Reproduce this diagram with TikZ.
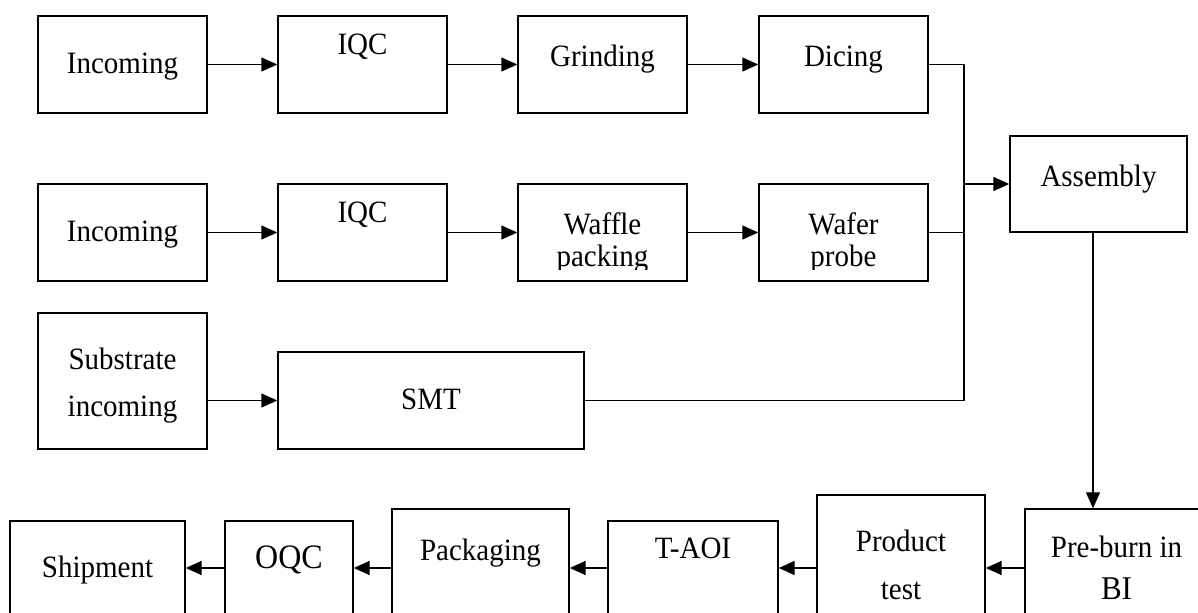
\documentclass[tikz,border=0pt]{standalone}
\usepackage{fontspec}
\usepackage{graphicx}
\setmainfont{Liberation Serif}
\usetikzlibrary{arrows.meta,fit}
% slightly taller lettering
\newcommand{\tall}[1]{\scalebox{1}[1.07]{#1}}
\begin{document}
\begin{tikzpicture}[x=0.5pt,y=-0.5pt,
  box/.style={draw, line width=0.7pt, inner sep=0pt},
  lbl/.style={font=\fontsize{14.5}{17}\selectfont, inner sep=0pt, anchor=base},
  arr/.style={line width=0.7pt, -{Triangle[length=8pt,width=7pt]}},
  wire/.style={line width=0.7pt}]
\useasboundingbox (0,0) rectangle (1198,613);
\clip (0,0) rectangle (1198,613);

% first wafer line
\node[box, fit={(38,16)(207,113)}] (inc1) {};
\node[lbl] (inc1t) at (122.5,74) {\tall{Incoming}};
\node[box, fit={(278,16)(447,113)}] (iqc1) {};
\node[lbl] (iqc1t) at (362.5,55) {\tall{IQC}};
\node[box, fit={(518,16)(687,113)}] (grind) {};
\node[lbl] (grindt) at (602.5,66.5) {\tall{Grinding}};
\node[box, fit={(759,16)(928,113)}] (dice) {};
\node[lbl] (dicet) at (843.5,66.5) {\tall{Dicing}};

% second wafer line
\node[box, fit={(38,184)(207,281)}] (inc2) {};
\node[lbl] (inc2t) at (122.5,242) {\tall{Incoming}};
\node[box, fit={(278,184)(447,281)}] (iqc2) {};
\node[lbl] (iqc2t) at (362.5,223) {\tall{IQC}};
\node[box, fit={(518,184)(687,281)}] (waffle) {};
\node[box, fit={(759,184)(928,281)}] (probe) {};
\begin{scope}
  \clip (500,184) rectangle (950,269.5);
  \node[lbl] (wafflet1) at (602.5,235) {\tall{Waffle}};
  \node[lbl] (wafflet2) at (602.5,267) {\tall{packing}};
  \node[lbl] (probet1) at (843.5,235) {\tall{Wafer}};
  \node[lbl] (probet2) at (843.5,267) {\tall{probe}};
\end{scope}

% assembly
\node[box, fit={(1010,136)(1187,232)}] (asm) {};
\node[lbl] (asmt) at (1098.5,187) {\tall{Assembly}};

% substrate line
\node[box, fit={(38,313)(207,449)}] (sub) {};
\node[lbl] (subt1) at (122.5,370) {\tall{Substrate}};
\node[lbl] (subt2) at (122.5,417) {\tall{incoming}};
\node[box, fit={(278,352)(584,449)}] (smt) {};
\node[lbl] (smtt) at (431,410) {\tall{SMT}};

% back-end line
\node[box, fit={(10,521)(185,640)}] (ship) {};
\node[lbl] (shipt) at (97.5,578) {\tall{Shipment}};
\node[box, fit={(225,521)(353,640)}] (oqc) {};
\node[lbl, font=\fontsize{16}{19}\selectfont] (oqct) at (289,568) {\tall{OQC}};
\node[box, fit={(392,509)(569,640)}] (pack) {};
\node[lbl] (packt) at (480.5,560) {\tall{Packaging}};
\node[box, fit={(608,521)(778,640)}] (taoi) {};
\node[lbl] (taoit) at (693,559) {\tall{T-AOI}};
\node[box, fit={(817,495)(985,640)}] (prod) {};
\node[lbl] (prodt1) at (901,552) {\tall{Product}};
\node[lbl] (prodt2) at (901,599) {\tall{test}};
\node[box, fit={(1025,509)(1208,640)}] (pre) {};
\node[lbl] (pret1) at (1116.5,558) {\tall{Pre-burn in}};
\node[lbl, font=\fontsize{15.5}{18}\selectfont] (pret2) at (1116.5,600) {\tall{BI}};

% connectors
\draw[arr] (inc1.east) -- (iqc1.west);
\draw[arr] (iqc1.east) -- (grind.west);
\draw[arr] (grind.east) -- (dice.west);
\draw[arr] (inc2.east) -- (iqc2.west);
\draw[arr] (iqc2.east) -- (waffle.west);
\draw[arr] (waffle.east) -- (probe.west);
\draw[arr] (sub.east |- smt.west) -- (smt.west);

\coordinate (busTop) at (964,64.5);
\coordinate (busBot) at (964,400.5);
\draw[wire] (dice.east) -- (busTop) -- (busBot) -- (smt.east);
\draw[wire] (probe.east) -- (probe.east -| busTop);
\draw[arr] (asm.west -| busTop) -- (asm.west);

\coordinate (drop) at (1093,232);
\draw[arr] (drop) -- (drop |- pre.north);

\coordinate (row) at (0,568);
\draw[arr] (row -| pre.west) -- (row -| prod.east);
\draw[arr] (row -| prod.west) -- (row -| taoi.east);
\draw[arr] (row -| taoi.west) -- (row -| pack.east);
\draw[arr] (row -| pack.west) -- (row -| oqc.east);
\draw[arr] (row -| oqc.west) -- (row -| ship.east);
\end{tikzpicture}
\end{document}
